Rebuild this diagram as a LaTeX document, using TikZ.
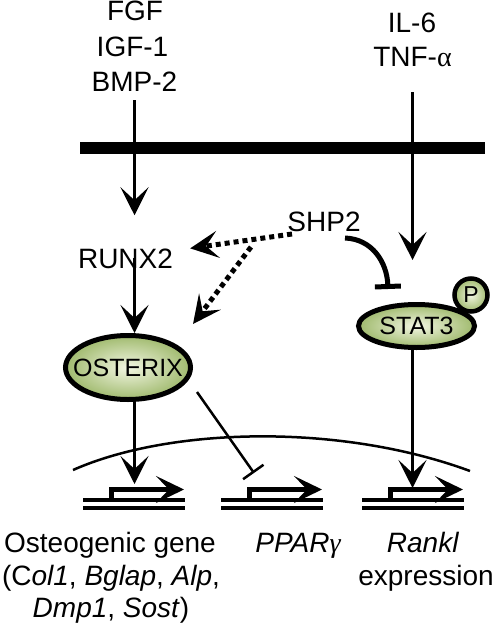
\documentclass[tikz,border=0pt]{standalone}
\usepackage{fontspec}
\setmainfont{Liberation Sans}
\newfontfamily\serifgreek{Liberation Serif}
\usetikzlibrary{arrows.meta,shapes.geometric,calc}
\definecolor{tfin}{RGB}{242,246,226}
\definecolor{tfout}{RGB}{160,186,110}
\begin{document}
\begin{tikzpicture}[x=1pt,y=-1pt,
  lbl/.style={font=\fontsize{28}{34}\selectfont, inner sep=0pt, anchor=base},
  arr/.style={line width=2.5pt, -{Stealth[length=28pt,width=28pt,inset=13pt]}},
  dotarr/.style={line width=5pt, dash pattern=on 5pt off 4pt, -{Stealth[length=28pt,width=27pt,inset=12pt]}},
  inh/.style={line width=2.5pt, -{Bar[width=25pt,line width=2.5pt]}},
  thickinh/.style={line width=5pt, -{Bar[width=26pt,line width=5pt]}},
  tf/.style={ellipse, draw, line width=5pt, inner color=tfin, outer color=tfout, font=\fontsize{25}{30}\selectfont, inner sep=0pt},
  dna/.style={line width=4pt},
  prom/.style={line width=5pt, -{Stealth[length=28pt,width=27pt,inset=13pt]}},
  gene/.pic={
    \draw[dna] (0,0) -- (102,0) (0,8) -- (102,8);
    \draw[prom] (28.5,-2) -- (28.5,-10) -- (101,-10);
  }
]
\useasboundingbox (0,0) rectangle (493,628);

% ligands
\node[lbl] (fgf) at (135,21) {FGF};
\node[lbl] (igf) at (132.5,56.5) {IGF-1};
\node[lbl] (bmp) at (134.5,92) {BMP-2};
\node[lbl] (il6) at (412,33) {IL-6};
\node[lbl] (tnf) at (412.5,67) {TNF-{\serifgreek α}};

% membrane
\draw[line width=12pt] (80,148) -- (485,148);

% nucleus
\draw[line width=2.5pt] (73,470) .. controls (170,427) and (340,423) .. (470,471);

% proteins
\node[lbl] (runx2) at (125.5,268) {RUNX2};
\node[lbl] (shp) at (324,231) {SHP2};
\node[tf, minimum width=125pt, minimum height=64pt] (ost) at (128,367.5) {\makebox[0pt]{OSTERIX}};
\node[tf, minimum width=116pt, minimum height=43pt] (stat) at (416.5,326) {\makebox[0pt]{STAT3}};
\node[circle, draw, line width=4.5pt, inner color=tfin, outer color=tfout, minimum size=33pt, inner sep=0pt, font=\fontsize{23}{28}\selectfont] (p) at (471,295) {P};

% genes
\coordinate (g1) at (83,499.5);
\coordinate (g2) at (221,499.5);
\coordinate (g3) at (362,499.5);
\pic at (g1) {gene};
\pic at (g2) {gene};
\pic at (g3) {gene};
\coordinate (t1) at (134.5,484);
\coordinate (t2) at (254,473);
\coordinate (t3) at (412.5,488);

% connectors
\draw[arr, shorten <=8pt, shorten >=33pt] (bmp.south) -- (bmp.south |- runx2.north);
\draw[arr] (bmp.south |- runx2.center) -- (bmp.south |- ost.north);
\draw[arr] (bmp.south |- ost.south) -- (t1);
\draw[arr, shorten <=25pt, shorten >=42pt] (tnf.south) -- (tnf.south |- stat.north);
\draw[arr] (tnf.south |- stat.south) -- (t3);
\draw[inh] ($(ost.center)+(69,24.5)$) -- (t2);

\coordinate (d0) at ($(shp.base)+(-32,3)$);
\coordinate (d1) at ($(shp.base)+(-73,16)$);
\coordinate (rtip) at ($(runx2.east)+(17,-10)$);
\coordinate (otip) at ($(ost.center)+(65,-43.5)$);
\draw[dotarr] (d0) -- (rtip);
\draw[dotarr] (d1) -- (otip);
\draw[thickinh] ($(shp.base)+(21,7)$) .. controls ($(shp.base)+(48,8)$) and ($(shp.base)+(63,31)$) .. ($(shp.base)+(64,58)$);

% gene labels
\node[lbl] (ost1) at (110,552) {Osteogenic gene};
\node[lbl] (ost2) at (111,585) {(C\textit{ol1}, \textit{Bglap}, \textit{Alp},};
\node[lbl] (ost3) at (111,617) {\textit{Dmp1}, \textit{Sost})};
\node[lbl] (ppar) at (298,552) {\textit{PPAR}{\serifgreek\itshape γ}};
\node[lbl] (rank1) at (423,552) {\textit{Rankl}};
\node[lbl] (rank2) at (426,585) {expression};
\end{tikzpicture}
\end{document}
